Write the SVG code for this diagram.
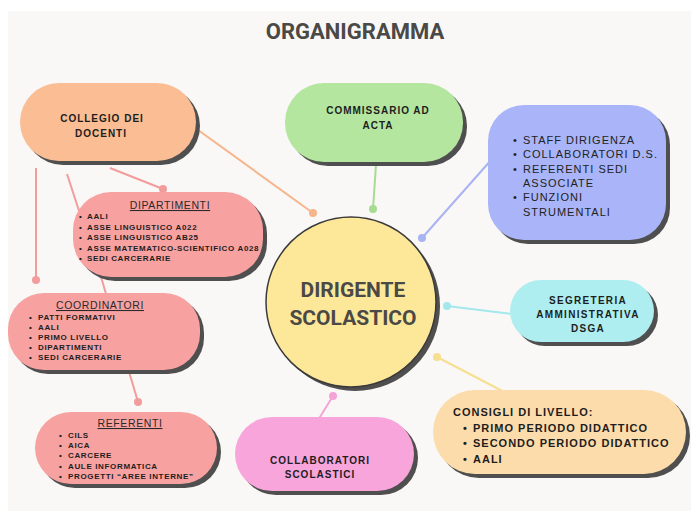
<svg xmlns="http://www.w3.org/2000/svg" width="691" height="518" viewBox="0 0 691 518">
<style>
.sh{fill:#4f4f4f}
.t{font-family:"Liberation Sans",Arial,sans-serif;font-weight:bold;fill:#1e1e1e}
.lb{font-size:10px;letter-spacing:1px;text-anchor:middle}
.it{font-size:8px;letter-spacing:0.65px}
.hd{font-family:"Liberation Sans",Arial,sans-serif;font-size:10.5px;letter-spacing:0.6px;fill:#2a2a2a;text-anchor:middle;text-decoration:underline}
.bl{font-family:"Liberation Sans",Arial,sans-serif;font-size:11px;letter-spacing:1px;fill:#222}
.big{font-family:Roboto,"Liberation Sans",sans-serif;font-weight:bold;fill:#4b4946;text-anchor:middle}
.ln{stroke-width:2;fill:none}
</style>
<rect x="0" y="0" width="691" height="518" fill="#ffffff"/>
<rect x="8" y="11" width="683" height="500" fill="#f9f8f6"/>
<text class="big" x="355" y="39" font-size="22">ORGANIGRAMMA</text>

<g id="connectors">
  <line class="ln" stroke="#f7b58c" x1="180" y1="117" x2="313" y2="213"/>
  <circle cx="313" cy="213" r="4" fill="#f7b58c"/>
  <line class="ln" stroke="#a6dd92" x1="377" y1="150" x2="373" y2="209"/>
  <circle cx="373" cy="209" r="4" fill="#a6dd92"/>
  <line class="ln" stroke="#a8b3f2" x1="500" y1="150" x2="422" y2="238"/>
  <circle cx="422" cy="238" r="4" fill="#a8b3f2"/>
  <line class="ln" stroke="#a3e8ec" x1="520" y1="315" x2="447" y2="306"/>
  <circle cx="447" cy="306" r="4" fill="#a3e8ec"/>
  <line class="ln" stroke="#f6df8e" x1="510" y1="395" x2="437" y2="357"/>
  <circle cx="437" cy="357" r="4" fill="#f6df8e"/>
  <line class="ln" stroke="#f5a3d8" x1="315" y1="425" x2="333" y2="396"/>
  <circle cx="333" cy="396" r="4" fill="#f5a3d8"/>
  <line class="ln" stroke="#f29c9c" x1="110" y1="168" x2="163" y2="189"/>
  <circle cx="163" cy="189" r="4" fill="#f29c9c"/>
  <line class="ln" stroke="#f29c9c" x1="67" y1="174" x2="82" y2="220"/>
  <line class="ln" stroke="#f29c9c" x1="36" y1="168" x2="36" y2="280"/>
  <circle cx="36" cy="280" r="4" fill="#f29c9c"/>
  <line class="ln" stroke="#f29c9c" x1="96" y1="260" x2="138" y2="402"/>
  <circle cx="138" cy="402" r="4" fill="#f29c9c"/>
</g>

<g id="collegio">
  <rect class="sh" x="24" y="87" width="176" height="78" rx="39"/>
  <rect x="20" y="83" width="176" height="78" rx="39" fill="#fbbd93"/>
  <text class="t lb" x="102" y="122">COLLEGIO DEI</text>
  <text class="t lb" x="101" y="137">DOCENTI</text>
</g>

<g id="commissario">
  <rect class="sh" x="289" y="87" width="178" height="79" rx="39"/>
  <rect x="285" y="83" width="178" height="79" rx="39" fill="#b4e6a0"/>
  <text class="t lb" x="378" y="114">COMMISSARIO AD</text>
  <text class="t lb" x="378" y="129">ACTA</text>
</g>

<g id="staff">
  <rect class="sh" x="492" y="109" width="178" height="135" rx="36"/>
  <rect x="488" y="105" width="178" height="135" rx="36" fill="#a9b5f8"/>
  <text class="bl" x="513" y="144">•</text><text class="bl" x="523" y="144">STAFF DIRIGENZA</text>
  <text class="bl" x="513" y="158">•</text><text class="bl" x="523" y="158">COLLABORATORI D.S.</text>
  <text class="bl" x="513" y="173">•</text><text class="bl" x="523" y="173">REFERENTI SEDI</text>
  <text class="bl" x="523" y="187">ASSOCIATE</text>
  <text class="bl" x="513" y="201">•</text><text class="bl" x="523" y="201">FUNZIONI</text>
  <text class="bl" x="523" y="216">STRUMENTALI</text>
</g>

<g id="dipartimenti">
  <rect class="sh" x="77" y="196" width="190" height="85" rx="38"/>
  <rect x="73" y="192" width="190" height="85" rx="38" fill="#f7a1a0"/>
  <text class="hd" x="170" y="209">DIPARTIMENTI</text>
  <g class="t it">
    <text x="79" y="219">•</text><text x="87" y="219">AALI</text>
    <text x="79" y="230">•</text><text x="87" y="230">ASSE LINGUISTICO A022</text>
    <text x="79" y="240">•</text><text x="87" y="240">ASSE LINGUISTICO AB25</text>
    <text x="79" y="251">•</text><text x="87" y="251">ASSE MATEMATICO-SCIENTIFICO A028</text>
    <text x="79" y="261">•</text><text x="87" y="261">SEDI CARCERARIE</text>
  </g>
</g>

<g id="coordinatori">
  <rect class="sh" x="12" y="297" width="192" height="77" rx="36"/>
  <rect x="8" y="293" width="192" height="77" rx="36" fill="#f7a1a0"/>
  <text class="hd" x="100" y="309">COORDINATORI</text>
  <g class="t it">
    <text x="29" y="320">•</text><text x="38" y="320">PATTI FORMATIVI</text>
    <text x="29" y="330">•</text><text x="38" y="330">AALI</text>
    <text x="29" y="340">•</text><text x="38" y="340">PRIMO LIVELLO</text>
    <text x="29" y="350">•</text><text x="38" y="350">DIPARTIMENTI</text>
    <text x="29" y="360">•</text><text x="38" y="360">SEDI CARCERARIE</text>
  </g>
</g>

<g id="referenti">
  <rect class="sh" x="39" y="416" width="182" height="72" rx="36"/>
  <rect x="35" y="412" width="182" height="72" rx="36" fill="#f7a1a0"/>
  <text class="hd" x="130" y="427">REFERENTI</text>
  <g class="t it">
    <text x="59" y="438">•</text><text x="68" y="438">CILS</text>
    <text x="59" y="448">•</text><text x="68" y="448">AICA</text>
    <text x="59" y="458">•</text><text x="68" y="458">CARCERE</text>
    <text x="59" y="469">•</text><text x="68" y="469">AULE INFORMATICA</text>
    <text x="59" y="479">•</text><text x="68" y="479">PROGETTI “AREE INTERNE”</text>
  </g>
</g>

<g id="dirigente">
  <circle class="sh" cx="355" cy="306" r="85"/>
  <circle cx="351" cy="302" r="85" fill="#fde89a" stroke="#3a3a3a" stroke-width="1.5"/>
  <text class="big" x="353" y="297" font-size="21">DIRIGENTE</text>
  <text class="big" x="353" y="325" font-size="21">SCOLASTICO</text>
</g>

<g id="segreteria">
  <rect class="sh" x="514" y="284" width="144" height="62" rx="31"/>
  <rect x="510" y="280" width="144" height="62" rx="31" fill="#aeeef0"/>
  <text class="t lb" x="588" y="304" style="letter-spacing:1.3px">SEGRETERIA</text>
  <text class="t lb" x="588" y="318" style="letter-spacing:1.3px">AMMINISTRATIVA</text>
  <text class="t lb" x="588" y="332" style="letter-spacing:1.3px">DSGA</text>
</g>

<g id="consigli">
  <rect class="sh" x="437" y="394" width="253" height="84" rx="42"/>
  <rect x="433" y="390" width="253" height="84" rx="42" fill="#fddcac"/>
  <g class="t" font-size="11" letter-spacing="1">
    <text x="453" y="416">CONSIGLI DI LIVELLO:</text>
    <text x="463" y="432">•</text><text x="473" y="432">PRIMO PERIODO DIDATTICO</text>
    <text x="463" y="447">•</text><text x="473" y="447">SECONDO PERIODO DIDATTICO</text>
    <text x="463" y="463">•</text><text x="473" y="463">AALI</text>
  </g>
</g>

<g id="collaboratori">
  <rect class="sh" x="239" y="421" width="179" height="74" rx="37"/>
  <rect x="235" y="417" width="179" height="74" rx="37" fill="#f8a5dc"/>
  <text class="t lb" x="320" y="464">COLLABORATORI</text>
  <text class="t lb" x="320" y="478">SCOLASTICI</text>
</g>
</svg>
